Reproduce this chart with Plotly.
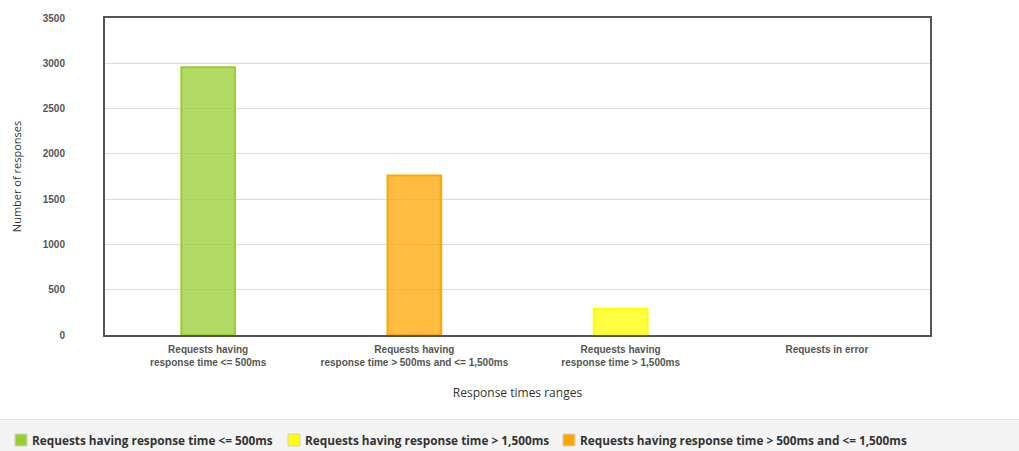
import plotly.graph_objects as go

categories = [
    "Requests having<br>response time <= 500ms",
    "Requests having<br>response time > 500ms and <= 1,500ms",
    "Requests having<br>response time > 1,500ms",
    "Requests in error",
]
series_names = [
    "Requests having response time <= 500ms",
    "Requests having response time > 1,500ms",
    "Requests having response time > 500ms and <= 1,500ms",
]
series_cat_index = [0, 2, 1]
series_values = [2957, 290, 1760]
fill_colors = ["rgba(154,205,50,0.75)", "rgba(255,255,0,0.75)", "rgba(255,165,0,0.75)"]
line_colors = ["#9acd32", "#ffff00", "#ffa500"]
y_ticks = [0, 500, 1000, 1500, 2000, 2500, 3000, 3500]

W, H = 1019, 451
L, R, T, B = 105, 89, 18, 116
pw = W - L - R
ph = H - T - B


def px_x(x):
    return (x - L) / pw


def px_y(y):
    return (T + ph - y) / ph


fig = go.Figure()
for name, ci, v, fc, lc in zip(series_names, series_cat_index, series_values, fill_colors, line_colors):
    fig.add_trace(go.Bar(
        x=[categories[ci]], y=[v], name=name, width=0.26, showlegend=False,
        marker=dict(color=fc, line=dict(color=lc, width=2)),
    ))

# legend band
fig.add_shape(type="rect", xref="paper", yref="paper",
              x0=px_x(0), x1=px_x(W), y0=px_y(H), y1=px_y(420),
              fillcolor="#f4f4f4", line=dict(width=0), layer="below")
fig.add_shape(type="line", xref="paper", yref="paper",
              x0=px_x(0), x1=px_x(W), y0=px_y(419.5), y1=px_y(419.5),
              line=dict(color="#e0e0e0", width=1))

# manual legend
legend_x = [15, 288, 563]
for lx, name, lc in zip(legend_x, series_names, line_colors):
    fig.add_shape(type="rect", xref="paper", yref="paper",
                  x0=px_x(lx), x1=px_x(lx + 12), y0=px_y(446), y1=px_y(434),
                  fillcolor=lc, line=dict(color="#d0d0d0", width=1))
    fig.add_annotation(xref="paper", yref="paper", x=px_x(lx + 15), y=px_y(440),
                       xanchor="left", yanchor="middle", showarrow=False,
                       text=name,
                       font=dict(family="Open Sans", size=11.8, color="#333", weight="bold"))

fig.update_layout(
    width=W, height=H,
    margin=dict(l=L, r=R, t=T, b=B, autoexpand=False),
    barmode="overlay",
    plot_bgcolor="white", paper_bgcolor="white",
    showlegend=False,
    xaxis=dict(
        type="category", categoryorder="array", categoryarray=categories,
        range=[-0.5, 3.5],
        showline=True, linecolor="#555", linewidth=2, mirror=True,
        ticks="outside", ticklen=4, tickcolor="rgba(0,0,0,0)",
        tickfont=dict(family="Liberation Sans", size=10, color="#555", weight="bold"),
        title=dict(text="Response times ranges",
                   font=dict(family="Open Sans", size=12, color="#333"), standoff=22),
    ),
    yaxis=dict(
        range=[0, 3500], tickvals=y_ticks,
        showgrid=True, gridcolor="#dcdcdc", gridwidth=1,
        showline=True, linecolor="#555", linewidth=2, mirror=True,
        ticks="outside", ticklen=36, tickcolor="rgba(0,0,0,0)",
        tickfont=dict(family="Liberation Sans", size=10, color="#555", weight="bold"),
        title=dict(text="Number of responses",
                   font=dict(family="Open Sans", size=11, color="#333"), standoff=19),
        zeroline=False,
    ),
)

fig.write_html("out.html")
